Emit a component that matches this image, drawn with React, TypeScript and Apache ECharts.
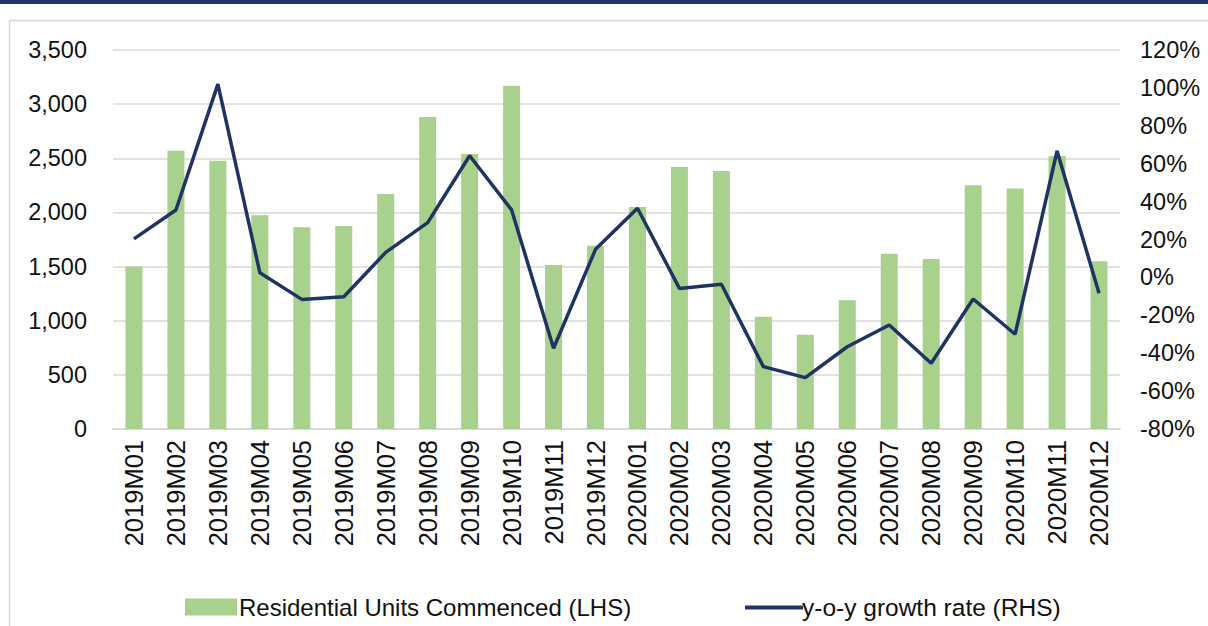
import React, { useEffect, useRef } from "react";
import * as echarts from "echarts";

const categories = [
  "2019M01","2019M02","2019M03","2019M04","2019M05","2019M06","2019M07","2019M08","2019M09","2019M10","2019M11","2019M12",
  "2020M01","2020M02","2020M03","2020M04","2020M05","2020M06","2020M07","2020M08","2020M09","2020M10","2020M11","2020M12",
];
const unitsCommenced = [
  1500, 2570, 2478, 1973, 1862, 1874, 2170, 2881, 2539, 3170, 1514, 1693,
  2050, 2420, 2383, 1037, 871, 1188, 1619, 1570, 2250, 2222, 2521, 1549,
];
const yoyGrowth = [
  20.3, 35.6, 102, 2.5, -11.6, -10.2, 13.2, 28.9, 64.2, 35.6, -37.4, 14.8,
  36.5, -5.8, -3.6, -47.1, -52.9, -36.6, -25.1, -45.3, -11.4, -30, 66.7, -8.4,
];
const barName = "Residential Units Commenced (LHS)";
const lineName = "y-o-y growth rate (RHS)";

const FONT = "'Liberation Sans', Arial, sans-serif";
const TXT = "#111111";
const GRID = "#d9d9d9";

export default function App() {
  const ref = useRef<HTMLDivElement>(null);
  useEffect(() => {
    if (!ref.current) return;
    const chart = echarts.init(ref.current, null, { renderer: "svg" });
    chart.setOption({
      animation: false,
      backgroundColor: "#ffffff",
      textStyle: { fontFamily: FONT },
      graphic: [
        { type: "rect", shape: { x: 0, y: 0, width: 1208, height: 4 }, style: { fill: "#1F3864" } },
        { type: "rect", shape: { x: 9.5, y: 20.5, width: 1300, height: 700 }, style: { fill: "none", stroke: GRID, lineWidth: 1.5 } },
      ],
      grid: { left: 113, right: 88, top: 50, bottom: 197, containLabel: false },
      legend: [
        {
          data: [barName],
          left: 180,
          top: 590,
          itemWidth: 52,
          itemHeight: 17,
          icon: "rect",
          itemGap: 4,
          textStyle: { fontFamily: FONT, fontSize: 24, color: TXT, padding: [0, 0, 0, -3] },
        },
        {
          data: [lineName],
          left: 740,
          top: 590,
          itemWidth: 58,
          itemHeight: 4,
          icon: "rect",
          textStyle: { fontFamily: FONT, fontSize: 24.5, color: TXT, padding: [0, 0, 0, -6] },
        },
      ],
      xAxis: {
        type: "category",
        data: categories,
        axisLine: { lineStyle: { color: GRID, width: 2 } },
        axisTick: { show: false },
        axisLabel: { rotate: 90, interval: 0, margin: 11, fontSize: 25.5, color: TXT, fontFamily: FONT },
      },
      yAxis: [
        {
          type: "value",
          min: 0,
          max: 3500,
          interval: 500,
          axisLine: { show: false },
          axisTick: { show: false },
          splitLine: { lineStyle: { color: GRID, width: 1.5 } },
          axisLabel: {
            margin: 26,
            fontSize: 23.5,
            color: TXT,
            fontFamily: FONT,
            formatter: (v: number) => v.toLocaleString("en-US"),
          },
        },
        {
          type: "value",
          min: -80,
          max: 120,
          interval: 20,
          axisLine: { show: false },
          axisTick: { show: false },
          splitLine: { show: false },
          axisLabel: { margin: 20, fontSize: 23.5, color: TXT, fontFamily: FONT, formatter: "{value}%" },
        },
      ],
      series: [
        {
          name: barName,
          type: "bar",
          data: unitsCommenced,
          barWidth: 17,
          itemStyle: { color: "#A9D18E" },
          yAxisIndex: 0,
        },
        {
          name: lineName,
          type: "line",
          data: yoyGrowth,
          yAxisIndex: 1,
          symbol: "none",
          lineStyle: { color: "#1F3461", width: 3.5 },
          itemStyle: { color: "#1F3461" },
        },
      ],
    });
    return () => chart.dispose();
  }, []);
  return <div ref={ref} style={{ position: "fixed", left: 0, top: 0, width: 1208, height: 626 }} />;
}
